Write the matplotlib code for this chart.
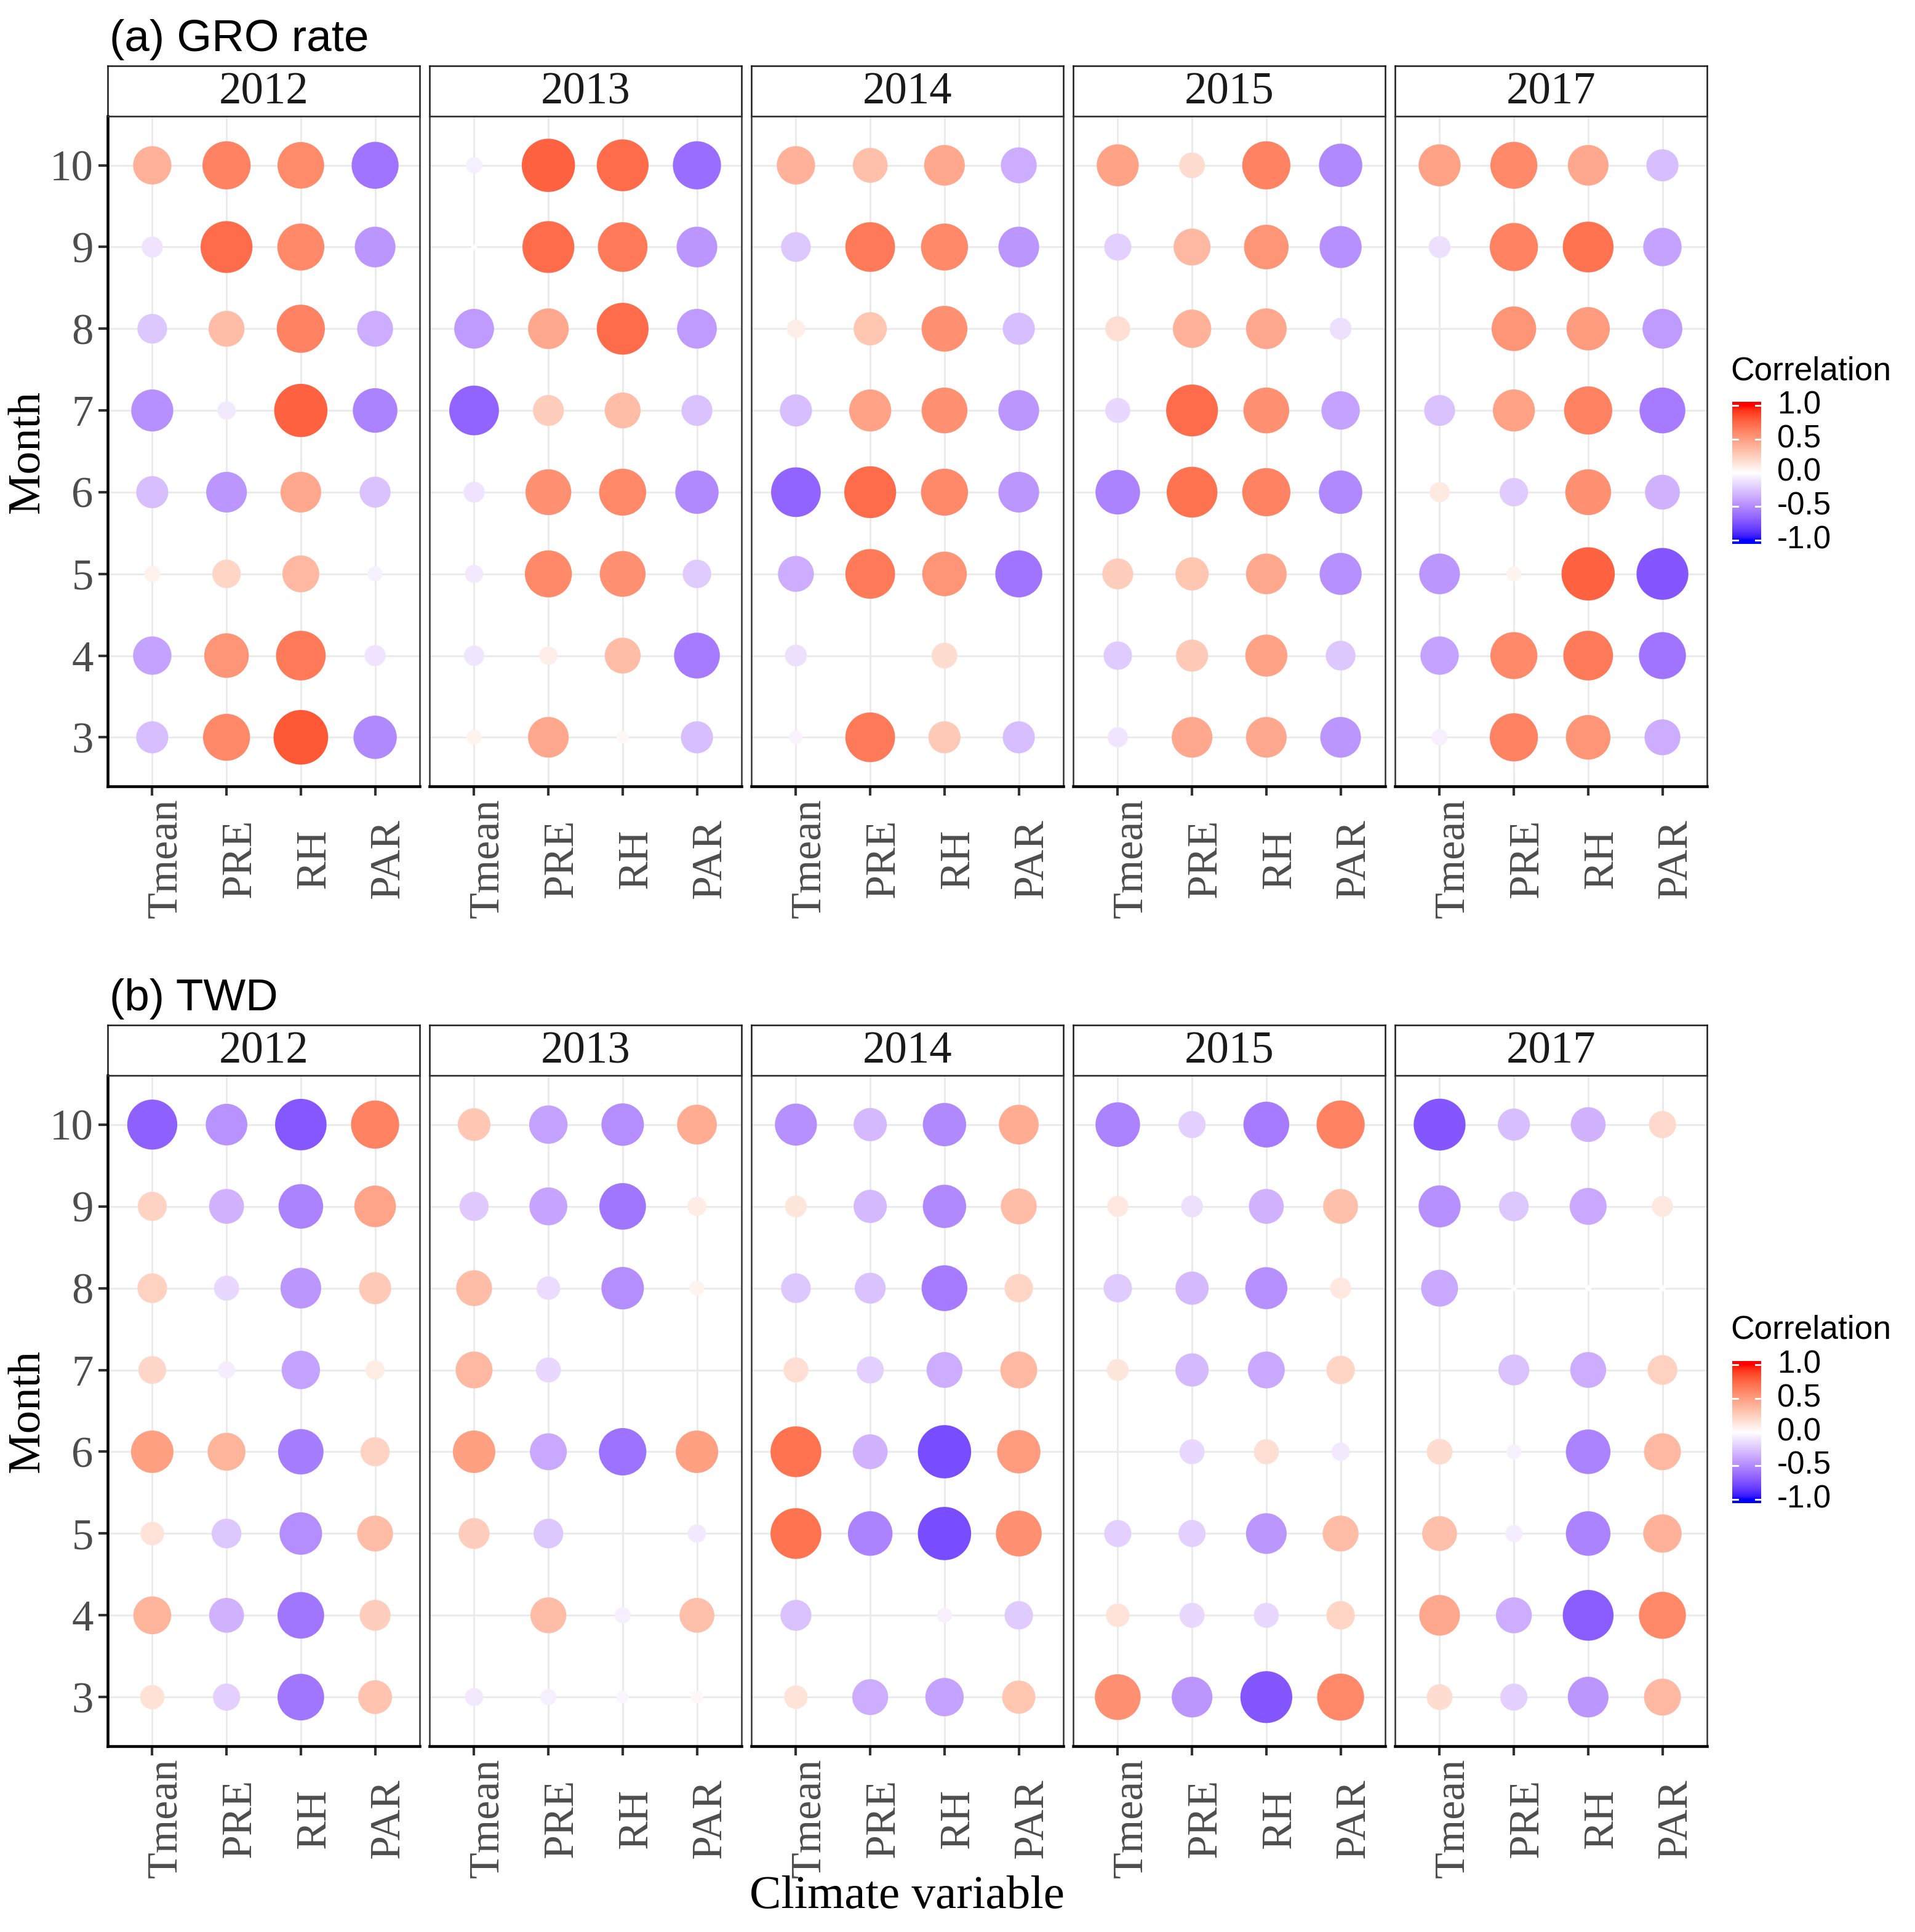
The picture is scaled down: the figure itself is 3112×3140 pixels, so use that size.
import numpy as np
import matplotlib.pyplot as plt
from matplotlib.colors import ListedColormap

# =========================
# data: correlation, rows = month 10 -> 3, cols = Tmean, PRE, RH, PAR
# =========================
months = [10, 9, 8, 7, 6, 5, 4, 3]
variables = ['Tmean', 'PRE', 'RH', 'PAR']
years = ['2012', '2013', '2014', '2015', '2017']

gro_2012 = [[0.40, 0.63, 0.59, -0.60], [-0.12, 0.73, 0.60, -0.45], [-0.24, 0.35, 0.63, -0.35],
            [-0.48, -0.09, 0.77, -0.54], [-0.28, -0.45, 0.45, -0.26], [0.07, 0.22, 0.37, -0.06],
            [-0.40, 0.54, 0.67, -0.12], [-0.28, 0.60, 0.81, -0.51]]
gro_2013 = [[-0.07, 0.77, 0.73, -0.63], [0.01, 0.73, 0.67, -0.45], [-0.43, 0.45, 0.73, -0.43],
            [-0.67, 0.26, 0.35, -0.26], [-0.12, 0.57, 0.60, -0.51], [-0.09, 0.60, 0.57, -0.22],
            [-0.11, 0.09, 0.35, -0.57], [0.06, 0.45, 0.04, -0.28]]
gro_2014 = [[0.40, 0.33, 0.45, -0.35], [-0.24, 0.67, 0.60, -0.45], [0.09, 0.30, 0.57, -0.28],
            [-0.28, 0.48, 0.57, -0.45], [-0.67, 0.73, 0.60, -0.45], [-0.35, 0.67, 0.54, -0.60],
            [-0.13, 0.00, 0.18, 0.00], [-0.05, 0.67, 0.28, -0.28]]
gro_2015 = [[0.48, 0.18, 0.63, -0.51], [-0.20, 0.37, 0.54, -0.48], [0.17, 0.40, 0.45, -0.13],
            [-0.17, 0.73, 0.57, -0.40], [-0.54, 0.70, 0.63, -0.51], [0.26, 0.30, 0.45, -0.48],
            [-0.22, 0.28, 0.48, -0.24], [-0.11, 0.45, 0.45, -0.45]]
gro_2017 = [[0.48, 0.60, 0.45, -0.28], [-0.13, 0.63, 0.70, -0.40], [0.00, 0.54, 0.51, -0.43],
            [-0.26, 0.48, 0.63, -0.57], [0.11, -0.22, 0.57, -0.33], [-0.45, 0.06, 0.77, -0.73],
            [-0.40, 0.60, 0.67, -0.60], [-0.07, 0.63, 0.54, -0.35]]

twd_2012 = [[-0.68, -0.47, -0.72, 0.63], [0.23, -0.33, -0.54, 0.47], [0.24, -0.17, -0.45, 0.28],
            [0.21, -0.08, -0.40, 0.10], [0.49, 0.39, -0.56, 0.23], [0.15, -0.24, -0.49, 0.35],
            [0.39, -0.33, -0.59, 0.26], [0.16, -0.20, -0.59, 0.31]]
twd_2013 = [[0.29, -0.40, -0.49, 0.43], [-0.23, -0.39, -0.59, 0.10], [0.35, -0.15, -0.49, 0.06],
            [0.37, -0.17, 0.00, 0.00], [0.49, -0.37, -0.61, 0.49], [0.26, -0.24, 0.00, -0.09],
            [0.00, 0.35, -0.07, 0.33], [-0.09, -0.07, -0.04, 0.04]]
twd_2014 = [[-0.48, -0.30, -0.51, 0.43], [0.13, -0.30, -0.51, 0.35], [-0.24, -0.26, -0.57, 0.22],
            [0.17, -0.20, -0.35, 0.37], [0.70, -0.33, -0.77, 0.51], [0.70, -0.54, -0.77, 0.57],
            [-0.26, 0.00, -0.06, -0.22], [0.15, -0.35, -0.40, 0.30]]
twd_2015 = [[-0.54, -0.20, -0.57, 0.63], [0.12, -0.13, -0.33, 0.33], [-0.22, -0.30, -0.48, 0.12],
            [0.13, -0.30, -0.37, 0.22], [0.00, -0.17, 0.17, -0.09], [-0.20, -0.20, -0.45, 0.35],
            [0.15, -0.17, -0.17, 0.22], [0.57, -0.45, -0.73, 0.60]]
twd_2017 = [[-0.73, -0.28, -0.33, 0.20], [-0.48, -0.24, -0.37, 0.12], [-0.37, 0.01, -0.01, -0.01],
            [0.00, -0.26, -0.35, 0.24], [0.18, -0.06, -0.54, 0.37], [0.33, -0.08, -0.54, 0.40],
            [0.45, -0.35, -0.70, 0.60], [0.18, -0.20, -0.45, 0.37]]

gro = [gro_2012, gro_2013, gro_2014, gro_2015, gro_2017]
twd = [twd_2012, twd_2013, twd_2014, twd_2015, twd_2017]
cbar_ticks = [1.0, 0.5, 0.0, -0.5, -1.0]


# =========================
# gradient2 colour scale (blue - white - red, interpolated in Lab)
# =========================
def lab_to_rgb(lab):
    L, a, b = lab[:, 0], lab[:, 1], lab[:, 2]
    fy = (L + 16) / 116
    fx = fy + a / 500
    fz = fy - b / 200

    def finv(t):
        return np.where(t > 6 / 29, t ** 3, 3 * (6 / 29) ** 2 * (t - 4 / 29))

    X, Y, Z = 0.95047 * finv(fx), finv(fy), 1.08883 * finv(fz)
    M = np.array([[3.2406, -1.5372, -0.4986],
                  [-0.9689, 1.8758, 0.0415],
                  [0.0557, -0.2040, 1.0570]])
    lin = np.clip(np.stack([X, Y, Z], axis=1) @ M.T, 0, 1)
    return np.where(lin <= 0.0031308, 12.92 * lin, 1.055 * lin ** (1 / 2.4) - 0.055)


LAB_WHITE = np.array([100.0, 0.0, 0.0])
LAB_RED = np.array([53.24, 80.09, 67.20])
LAB_BLUE = np.array([32.30, 79.19, -107.86])

v = np.linspace(-1, 1, 512)
labs = np.where(v[:, None] < 0,
                LAB_WHITE + (-v[:, None]) * (LAB_BLUE - LAB_WHITE),
                LAB_WHITE + v[:, None] * (LAB_RED - LAB_WHITE))
cmap = ListedColormap(np.clip(lab_to_rgb(labs), 0, 1))

SERIF = ['Liberation Serif', 'DejaVu Serif']
SANS = ['Liberation Sans', 'DejaVu Sans']

W, H, DPI = 3112, 3140, 300
fig = plt.figure(figsize=(W / DPI, H / DPI), dpi=DPI)


def px_axes(x0, y0, x1, y1):
    return fig.add_axes([x0 / W, 1 - y1 / H, (x1 - x0) / W, (y1 - y0) / H])


FACET_X0, FACET_STEP, FACET_W = 175, 523, 507


def draw_panel(data, title, strip_top, strip_bot, panel_bot, leg_top):
    fig.text(178 / W, 1 - (strip_top - 43) / H, title, family=SANS,
             fontsize=17.5, ha='left', va='center')

    for i, (yr, vals) in enumerate(zip(years, data)):
        x0 = FACET_X0 + i * FACET_STEP
        x1 = x0 + FACET_W

        # strip
        sax = px_axes(x0, strip_top, x1, strip_bot)
        sax.set_xticks([])
        sax.set_yticks([])
        for sp in sax.spines.values():
            sp.set_linewidth(0.6)
            sp.set_color('#1a1a1a')
        sax.text(0.5, 0.47, yr, transform=sax.transAxes, family=SERIF,
                 fontsize=17.5, ha='center', va='center', color='#1a1a1a')

        ax = px_axes(x0, strip_bot, x1, panel_bot)
        arr = np.array(vals)
        xx, yy = np.meshgrid(np.arange(len(variables)), months)
        ax.scatter(xx.ravel(), yy.ravel(), s=560 * np.abs(arr.ravel()),
                   c=arr.ravel(), cmap=cmap, vmin=-1, vmax=1,
                   linewidths=0, zorder=3)
        ax.set_xlim(-0.6, 3.6)
        ax.set_ylim(2.4, 10.6)
        ax.set_xticks(range(len(variables)))
        ax.set_yticks(months)
        ax.grid(True, color='#EBEBEB', linewidth=0.7)
        ax.set_axisbelow(True)

        for sp in ['top', 'right']:
            ax.spines[sp].set_linewidth(0.6)
            ax.spines[sp].set_color('#333333')
        ax.spines['bottom'].set_linewidth(1.1)
        ax.spines['bottom'].set_color('black')
        ax.tick_params(axis='x', length=3.6, width=1.0, color='#333333',
                       labelbottom=False)
        if i == 0:
            ax.spines['left'].set_linewidth(1.1)
            ax.spines['left'].set_color('black')
            ax.tick_params(axis='y', length=3.6, width=1.0, color='#333333',
                           pad=2, labelsize=17, labelcolor='#4D4D4D')
            for lab in ax.get_yticklabels():
                lab.set_family(SERIF)
        else:
            ax.spines['left'].set_linewidth(0.6)
            ax.spines['left'].set_color('#333333')
            ax.tick_params(axis='y', length=0, labelleft=False)

        # rotated climate variable labels
        for j, name in enumerate(variables):
            xp = x0 + (j + 0.6) / 4.2 * FACET_W + 22
            fig.text(xp / W, 1 - (panel_bot + 117) / H, name, rotation=90,
                     family=SERIF, fontsize=16.8, color='#4D4D4D',
                     ha='center', va='center')

    # y label
    fig.text(46 / W, 1 - (strip_bot + panel_bot) / 2 / H, 'Month', rotation=90,
             family=SERIF, fontsize=18, ha='center', va='center')

    # colour bar legend
    fig.text(2812 / W, 1 - (leg_top - 50) / H, 'Correlation', family=SANS,
             fontsize=12.8, ha='left', va='center')
    cb_top, cb_bot = leg_top, leg_top + 231
    ext = 1.055
    cax = px_axes(2815, cb_top, 2862, cb_bot)
    cax.imshow(np.linspace(ext, -ext, 300)[:, None], aspect='auto', cmap=cmap,
               vmin=-1, vmax=1, extent=[0, 1, -ext, ext])
    cax.set_xlim(0, 1)
    cax.set_ylim(-ext, ext)
    cax.set_xticks([])
    cax.set_yticks([])
    for sp in cax.spines.values():
        sp.set_visible(False)
    for t in cbar_ticks:
        cax.plot([0, 0.2], [t, t], color='white', lw=0.7)
        cax.plot([0.8, 1], [t, t], color='white', lw=0.7)
        yp = cb_top + (ext - t) / (2 * ext) * (cb_bot - cb_top)
        fig.text(2888 / W, 1 - yp / H, f'{t:.1f}', family=SANS,
                 fontsize=12.3, ha='left', va='center')


draw_panel(gro, '(a) GRO rate', 107, 189, 1278, 653)
draw_panel(twd, '(b) TWD', 1666, 1748, 2838, 2212)

fig.text(1474 / W, 1 - 3082 / H, 'Climate variable', family=SERIF,
         fontsize=18.5, ha='center', va='center')

fig.savefig('out.png', dpi=DPI)
